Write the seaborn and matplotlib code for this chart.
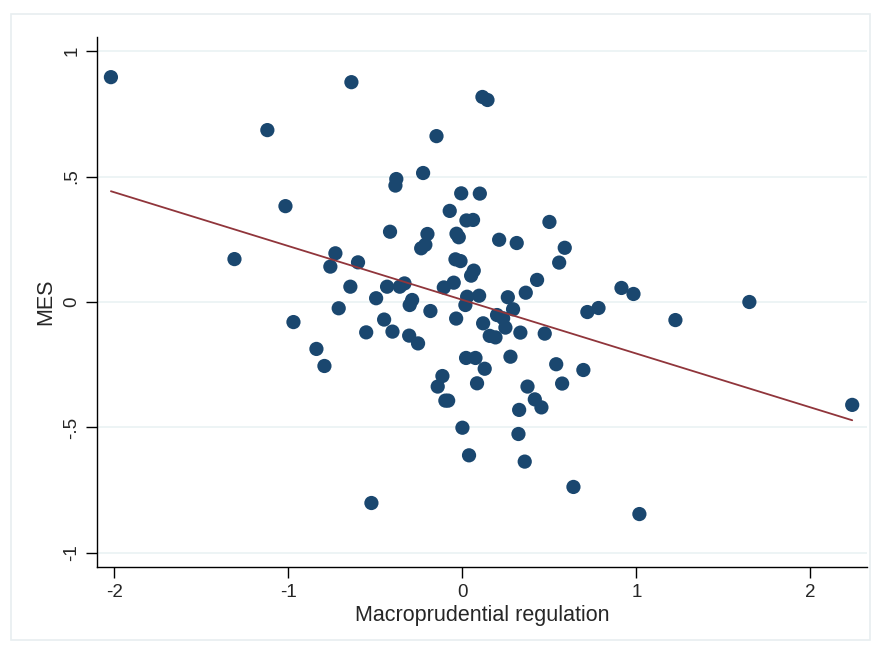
import matplotlib
matplotlib.use("Agg")
import matplotlib.pyplot as plt
import seaborn as sns
import pandas as pd
import numpy as np
from matplotlib.patches import Rectangle

macro = [-2.02, -0.638, -1.121, 0.115, 0.144, -0.149, -1.017, -1.31, -0.971, -0.839,
         -0.793, -0.523, 1.649, 2.24, 1.224, 1.017, 0.638, 0.983, 0.914, 0.782,
         0.718, 0.695,
         -0.38, -0.385, -0.226, -0.007, 0.10, -0.073, 0.023, 0.061, -0.416, -0.201,
         -0.213, -0.237, -0.034, -0.021, -0.730, -0.60, -0.759, -0.040, -0.011, 0.065,
         0.050, -0.644, -0.433, -0.36, -0.333, -0.107, -0.05, -0.496, -0.289, -0.303,
         0.027, 0.017, 0.096, -0.711, -0.184,
         0.5, 0.211, 0.312, 0.588, 0.556, 0.429, 0.364, 0.261, 0.291,
         -0.036, 0.119, 0.157, -0.45, -0.553, -0.402, -0.306, -0.255, 0.021, 0.075,
         0.128, -0.115, -0.142, -0.098, -0.082, 0.084, 0.0, 0.038,
         0.199, 0.234, 0.247, 0.190, 0.333, 0.473, 0.276, 0.539, 0.573, 0.374,
         0.416, 0.454, 0.326, 0.322, 0.358]
mes = [0.896, 0.876, 0.685, 0.817, 0.805, 0.661, 0.382, 0.171, -0.080, -0.187,
       -0.255, -0.801, 0.0, -0.41, -0.072, -0.845, -0.737, 0.032, 0.056, -0.024,
       -0.04, -0.271,
       0.49, 0.464, 0.514, 0.433, 0.432, 0.363, 0.325, 0.327, 0.28, 0.271,
       0.228, 0.214, 0.272, 0.258, 0.194, 0.158, 0.141, 0.170, 0.163, 0.125,
       0.105, 0.061, 0.061, 0.061, 0.074, 0.058, 0.077, 0.015, 0.008, -0.012,
       0.021, -0.012, 0.025, -0.025, -0.036,
       0.319, 0.248, 0.235, 0.216, 0.157, 0.088, 0.037, 0.019, -0.029,
       -0.066, -0.085, -0.135, -0.070, -0.121, -0.118, -0.134, -0.165, -0.223, -0.223,
       -0.266, -0.295, -0.337, -0.393, -0.393, -0.324, -0.501, -0.611,
       -0.052, -0.065, -0.102, -0.141, -0.122, -0.126, -0.218, -0.248, -0.325, -0.337,
       -0.388, -0.42, -0.43, -0.526, -0.636]

x_ticks = [-2, -1, 0, 1, 2]
x_labels = ["-2", "-1", "0", "1", "2"]
y_ticks = [-1, -0.5, 0, 0.5, 1]
y_labels = ["-1", "-.5", "0", ".5", "1"]

df = pd.DataFrame({"Macroprudential regulation": macro, "MES": mes})

sns.set_style("white")
plt.rcParams['font.family'] = ['Liberation Sans', 'DejaVu Sans']

fig = plt.figure(figsize=(8.75, 6.45), dpi=100)
fig.patches.append(Rectangle((11/875, 5/645), 859/875, 626/645, transform=fig.transFigure,
                             fill=False, edgecolor="#e8eef0", linewidth=1.2))
ax = fig.add_axes([97/875, 78/645, 770/875, 530/645])

navy = "#1a476f"
maroon = "#90353b"
ax.grid(False)
for yt in y_ticks:
    ax.axhline(yt, color="#eaf2f3", linewidth=1.2, zorder=0)

sns.regplot(data=df, x="Macroprudential regulation", y="MES", ax=ax, ci=None,
            scatter_kws=dict(s=105, color=navy, edgecolor="none", alpha=1, zorder=3),
            line_kws=dict(color=maroon, linewidth=1.3, zorder=4))

ax.set_xlim(-2.10, 2.325)
ax.set_ylim(-1.056, 1.056)
ax.set_xticks(x_ticks)
ax.set_xticklabels(x_labels, fontsize=13.5)
ax.set_yticks(y_ticks)
ax.set_yticklabels(y_labels, fontsize=13.5, rotation=90, va="center")
ax.tick_params(axis="both", direction="out", length=8, width=1, color="black", pad=4,
               bottom=True, left=True)
ax.set_xlabel("Macroprudential regulation", fontsize=15.5, labelpad=3)
ax.set_ylabel("MES", fontsize=15.5, labelpad=5)
for s in ["top", "right"]:
    ax.spines[s].set_visible(False)
for s in ["left", "bottom"]:
    ax.spines[s].set_color("black")
    ax.spines[s].set_linewidth(1)
ax.set_facecolor("white")

fig.savefig("out.png", dpi=100)
